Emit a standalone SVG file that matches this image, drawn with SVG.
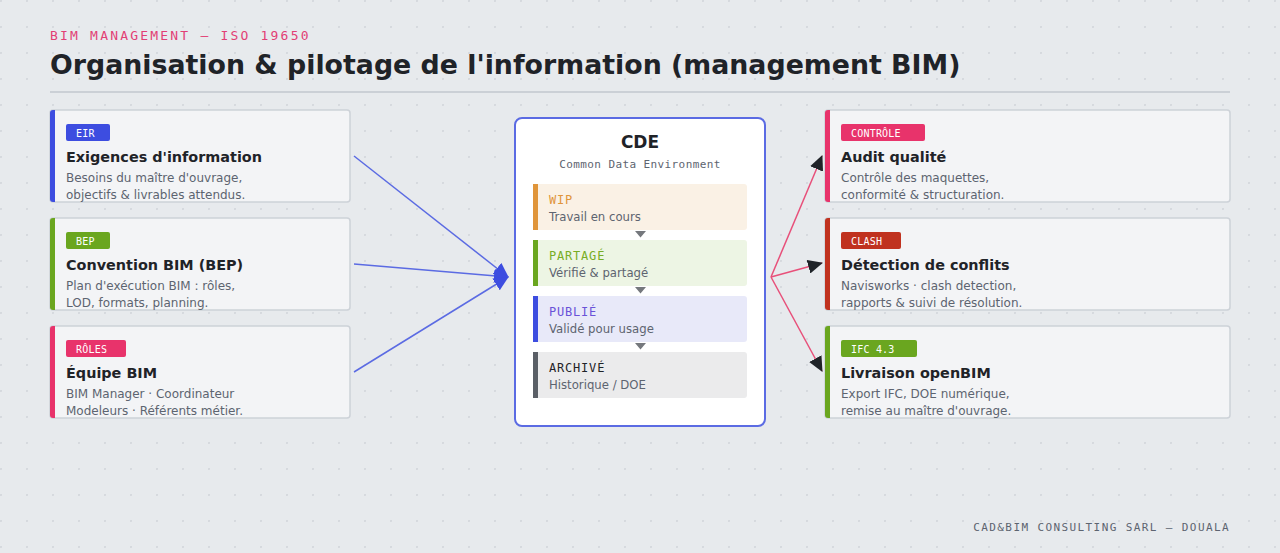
<svg xmlns="http://www.w3.org/2000/svg" width="1280" height="553" viewBox="0 0 1280 553">
<defs>
<pattern id="dots" x="0" y="0" width="26" height="26" patternUnits="userSpaceOnUse">
<circle cx="1" cy="1" r="1.1" fill="#d4d8dd"/>
</pattern>
<marker id="ab" markerUnits="userSpaceOnUse" markerWidth="16" markerHeight="14" viewBox="0 0 16 14" refX="14" refY="7" orient="auto">
<path d="M0,0 L15,7 L0,14 z" fill="#3d4de0"/>
</marker>
<marker id="ad" markerUnits="userSpaceOnUse" markerWidth="16" markerHeight="14" viewBox="0 0 16 14" refX="14" refY="7" orient="auto">
<path d="M0,0 L15,7 L0,14 z" fill="#1f2328"/>
</marker>
<style>
.card{fill:#f3f4f6;stroke:#cdd2d8;stroke-width:1.5}
.ttl{font-family:"DejaVu Sans",sans-serif;font-weight:bold;font-size:14.4px;fill:#1f2328}
.dsc{font-family:"DejaVu Sans",sans-serif;font-size:12px;fill:#5d6470}
.tag{font-family:"DejaVu Sans Mono",monospace;font-size:10px;fill:#ffffff;letter-spacing:0.2px}
.mono{font-family:"DejaVu Sans Mono",monospace}
.stl{font-family:"DejaVu Sans Mono",monospace;font-size:12px;letter-spacing:0.8px}
.sds{font-family:"DejaVu Sans",sans-serif;font-size:11.7px;fill:#5d6470}
.lb{fill:none;stroke:#5b6be3;stroke-width:1.5}
.lp{fill:none;stroke:#e8507a;stroke-width:1.5}
.tri{fill:#75787d}
</style>
</defs>
<rect width="1280" height="553" fill="#e7eaed"/>
<rect width="1280" height="553" fill="url(#dots)"/>

<g id="header">
<text x="50" y="40" class="mono" font-size="13" letter-spacing="2.2" fill="#e23f75">BIM MANAGEMENT — ISO 19650</text>
<text x="50" y="74" font-family="DejaVu Sans, sans-serif" font-weight="bold" font-size="26.8" fill="#1f2328">Organisation &amp; pilotage de l'information (management BIM)</text>
<rect x="50" y="91" width="1180" height="2" fill="#cbd0d6"/>
</g>

<g id="connectors">
<line class="lb" x1="354" y1="156" x2="508" y2="277" marker-end="url(#ab)"/>
<line class="lb" x1="354" y1="264" x2="508" y2="277" marker-end="url(#ab)"/>
<line class="lb" x1="354" y1="372" x2="508" y2="277" marker-end="url(#ab)"/>
<line class="lp" x1="771" y1="277" x2="822" y2="156" marker-end="url(#ad)"/>
<line class="lp" x1="771" y1="277" x2="822" y2="263" marker-end="url(#ad)"/>
<line class="lp" x1="771" y1="277" x2="822" y2="371" marker-end="url(#ad)"/>
</g>

<g id="eir">
<rect class="card" x="50" y="110" width="300" height="92" rx="3"/>
<path d="M53,110 H55 V202 H53 A3,3 0 0 1 50,199 V113 A3,3 0 0 1 53,110 z" fill="#3d4de0"/>
<rect x="66" y="124" width="44" height="17" rx="2" fill="#3d4de0"/>
<text class="tag" x="76" y="136.5">EIR</text>
<text class="ttl" x="66" y="162">Exigences d'information</text>
<text class="dsc" x="66" y="182">Besoins du maître d'ouvrage,</text>
<text class="dsc" x="66" y="199">objectifs &amp; livrables attendus.</text>
</g>

<g id="bep">
<rect class="card" x="50" y="218" width="300" height="92" rx="3"/>
<path d="M53,218 H55 V310 H53 A3,3 0 0 1 50,307 V221 A3,3 0 0 1 53,218 z" fill="#6aa61f"/>
<rect x="66" y="232" width="44" height="17" rx="2" fill="#6aa61f"/>
<text class="tag" x="76" y="244.5">BEP</text>
<text class="ttl" x="66" y="270">Convention BIM (BEP)</text>
<text class="dsc" x="66" y="290">Plan d'exécution BIM : rôles,</text>
<text class="dsc" x="66" y="307">LOD, formats, planning.</text>
</g>

<g id="roles">
<rect class="card" x="50" y="326" width="300" height="92" rx="3"/>
<path d="M53,326 H55 V418 H53 A3,3 0 0 1 50,415 V329 A3,3 0 0 1 53,326 z" fill="#e8336b"/>
<rect x="66" y="340" width="60" height="17" rx="2" fill="#e8336b"/>
<text class="tag" x="76" y="352.5">RÔLES</text>
<text class="ttl" x="66" y="378">Équipe BIM</text>
<text class="dsc" x="66" y="398">BIM Manager · Coordinateur</text>
<text class="dsc" x="66" y="415">Modeleurs · Référents métier.</text>
</g>

<g id="cde">
<rect x="515" y="118" width="250" height="308" rx="7" fill="#ffffff" stroke="#5b6be3" stroke-width="2"/>
<text x="640" y="148" text-anchor="middle" font-family="DejaVu Sans, sans-serif" font-weight="bold" font-size="17" fill="#1f2328">CDE</text>
<text x="640" y="167.5" text-anchor="middle" class="mono" font-size="11" letter-spacing="0.4" fill="#5d6470">Common Data Environment</text>

<g id="stage-wip">
<rect x="533" y="184" width="214" height="46" rx="3" fill="#faf1e5"/>
<rect x="533" y="184" width="5" height="46" fill="#e0953a"/>
<text class="stl" x="549" y="204" fill="#e0953a">WIP</text>
<text class="sds" x="549" y="221">Travail en cours</text>
</g>
<path class="tri" d="M635,231 L646,231 L640.5,237.5 z"/>
<g id="stage-partage">
<rect x="533" y="240" width="214" height="46" rx="3" fill="#edf5e4"/>
<rect x="533" y="240" width="5" height="46" fill="#6aa61f"/>
<text class="stl" x="549" y="260" fill="#78ad25">PARTAGÉ</text>
<text class="sds" x="549" y="277">Vérifié &amp; partagé</text>
</g>
<path class="tri" d="M635,287 L646,287 L640.5,293.5 z"/>
<g id="stage-publie">
<rect x="533" y="296" width="214" height="46" rx="3" fill="#e8e9f9"/>
<rect x="533" y="296" width="5" height="46" fill="#3d4de0"/>
<text class="stl" x="549" y="316" fill="#6a52d8">PUBLIÉ</text>
<text class="sds" x="549" y="333">Validé pour usage</text>
</g>
<path class="tri" d="M635,343 L646,343 L640.5,349.5 z"/>
<g id="stage-archive">
<rect x="533" y="352" width="214" height="46" rx="3" fill="#ebebec"/>
<rect x="533" y="352" width="5" height="46" fill="#5a5f66"/>
<text class="stl" x="549" y="372" fill="#1f2328">ARCHIVÉ</text>
<text class="sds" x="549" y="389">Historique / DOE</text>
</g>
</g>

<g id="audit">
<rect class="card" x="825" y="110" width="405" height="92" rx="3"/>
<path d="M828,110 H830 V202 H828 A3,3 0 0 1 825,199 V113 A3,3 0 0 1 828,110 z" fill="#e8336b"/>
<rect x="841" y="124" width="84" height="17" rx="2" fill="#e8336b"/>
<text class="tag" x="851" y="136.5">CONTRÔLE</text>
<text class="ttl" x="841" y="162">Audit qualité</text>
<text class="dsc" x="841" y="182">Contrôle des maquettes,</text>
<text class="dsc" x="841" y="199">conformité &amp; structuration.</text>
</g>

<g id="clash">
<rect class="card" x="825" y="218" width="405" height="92" rx="3"/>
<path d="M828,218 H830 V310 H828 A3,3 0 0 1 825,307 V221 A3,3 0 0 1 828,218 z" fill="#c0321f"/>
<rect x="841" y="232" width="60" height="17" rx="2" fill="#c0321f"/>
<text class="tag" x="851" y="244.5">CLASH</text>
<text class="ttl" x="841" y="270">Détection de conflits</text>
<text class="dsc" x="841" y="290">Navisworks · clash detection,</text>
<text class="dsc" x="841" y="307">rapports &amp; suivi de résolution.</text>
</g>

<g id="openbim">
<rect class="card" x="825" y="326" width="405" height="92" rx="3"/>
<path d="M828,326 H830 V418 H828 A3,3 0 0 1 825,415 V329 A3,3 0 0 1 828,326 z" fill="#6aa61f"/>
<rect x="841" y="340" width="76" height="17" rx="2" fill="#6aa61f"/>
<text class="tag" x="851" y="352.5">IFC 4.3</text>
<text class="ttl" x="841" y="378">Livraison openBIM</text>
<text class="dsc" x="841" y="398">Export IFC, DOE numérique,</text>
<text class="dsc" x="841" y="415">remise au maître d'ouvrage.</text>
</g>

<g id="footer">
<text x="1230" y="531" text-anchor="end" class="mono" font-size="11" letter-spacing="1.4" fill="#5d6470">CAD&amp;BIM CONSULTING SARL — DOUALA</text>
</g>
</svg>
